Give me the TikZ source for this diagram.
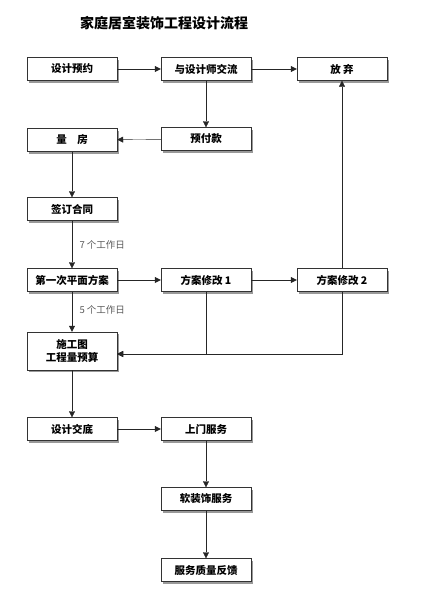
\documentclass[tikz,border=0pt]{standalone}
\usepackage{fontspec}
\newfontfamily\cjk{Noto Sans CJK SC}
\usetikzlibrary{arrows.meta,shadows}
\begin{document}
\begin{tikzpicture}[
			x=1pt, y=-1pt,
			box/.style={draw=black!80, fill=white, minimum width=90pt, minimum height=23pt,
				inner sep=1pt, align=center, font=\cjk\bfseries\fontsize{10.5}{13}\selectfont,
				drop shadow={shadow xshift=2pt, shadow yshift=-2pt, fill=black!40, opacity=1}},
			link/.style={draw=black!85, -{Triangle[length=6pt,width=6pt]}},
			days/.style={font=\cjk\fontsize{9.5}{11}\selectfont, text=black!65, anchor=west}
			]
			\useasboundingbox (0,0) rectangle (447,597);
			\node[font=\cjk\bfseries\fontsize{14}{16}\selectfont] (title) at (164,23) {家庭居室装饰工程设计流程};
			% first column
			\node[box] (yy) at (72,69) {设计预约};
			\node[box] (lf) at (72,140) {量\quad 房};
			\node[box] (qht) at (72,209) {签订合同};
			\node[box] (dyc) at (72,280) {第一次平面方案};
			\node[box, minimum height=38pt] (sgt) at (72,351) {施工图\\工程量预算};
			\node[box] (jd) at (72,429) {设计交底};
			% second column
			\node[box] (jl) at (206,69) {与设计师交流};
			\node[box] (yfk) at (206,139) {预付款};
			\node[box] (xg1) at (206,280) {方案修改 1};
			\node[box] (smfw) at (206,429) {上门服务};
			\node[box] (rzs) at (206,499) {软装饰服务};
			\node[box] (fk) at (206,570) {服务质量反馈};
			% third column
			\node[box] (fq) at (342,69) {放\ 弃};
			\node[box] (xg2) at (342,280) {方案修改 2};
			% connectors
			\draw[link] (yy) -- (jl);
			\draw[link] (jl) -- (fq);
			\draw[link] (jl) -- (yfk);
			\draw[link] (yfk) -- (lf);
			\draw[link] (lf) -- (qht);
			\draw[link] (qht) -- node[days, xshift=4pt] {7 个工作日} (dyc);
			\draw[link] (dyc) -- (xg1);
			\draw[link] (xg1) -- (xg2);
			\draw[link] (dyc) -- node[days, xshift=4pt, pos=0.45] {5 个工作日} (sgt);
			\draw[link] (xg2) -- (fq);
			\coordinate (sgtin) at ([yshift=-3pt]sgt.east);
			\draw[link] (xg1.south) |- (sgtin);
			\draw[link] (xg2.south) |- (sgtin);
			\draw[link] (sgt) -- (jd);
			\draw[link] (jd) -- (smfw);
			\draw[link] (smfw) -- (rzs);
			\draw[link] (rzs) -- (fk);
\end{tikzpicture}
\end{document}
